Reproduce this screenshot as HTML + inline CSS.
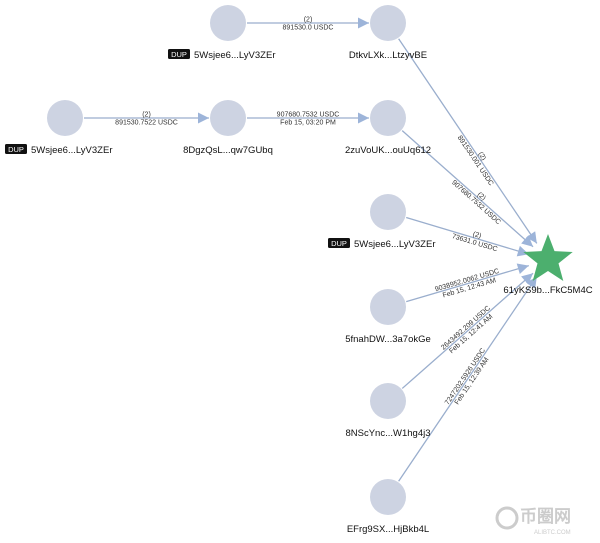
<!DOCTYPE html>
<html><head><meta charset="utf-8"><style>
body{margin:0;background:#fff;width:600px;height:538px;overflow:hidden}
svg{font-family:"Liberation Sans",sans-serif}
</style></head><body>
<svg id="s" width="600" height="538" viewBox="0 0 600 538" xmlns="http://www.w3.org/2000/svg">
<defs><marker id="ar" viewBox="0 0 10 10" refX="10" refY="5" markerWidth="16" markerHeight="11" markerUnits="userSpaceOnUse" orient="auto"><path d="M0,0L10,5L0,10z" fill="#9db4d9"/></marker></defs>
<g id="edges"></g><g id="nodes"></g>
</svg>
<script>
const S="http://www.w3.org/2000/svg";
const N={A:[228,23],B:[388,23],C:[65,118],D:[228,118],E:[388,118],F:[388,212],G:[388,307],H:[388,401],I:[388,497]};
const star=[548,260];
const eg=document.getElementById('edges'),ng=document.getElementById('nodes');
function el(t,a,p,txt){const e=document.createElementNS(S,t);for(const k in a)e.setAttribute(k,a[k]);if(txt!=null)e.textContent=txt;p.appendChild(e);return e;}
function edge(a,b,l1,l2,f,r2){
 const dx=b[0]-a[0],dy=b[1]-a[1],L=Math.hypot(dx,dy),ux=dx/L,uy=dy/L;
 const s=[a[0]+ux*19,a[1]+uy*19],e=[b[0]-ux*r2,b[1]-uy*r2];
 el('line',{x1:s[0],y1:s[1],x2:e[0],y2:e[1],stroke:'#9aaecd','stroke-width':1.3,'marker-end':'url(#ar)'},eg);
 const mx=a[0]+dx*f,my=a[1]+dy*f;let ang=Math.atan2(dy,dx)*180/Math.PI;
 if(ang>90)ang-=180;if(ang<-90)ang+=180;
 const g=el('g',{transform:`translate(${mx},${my}) rotate(${ang})`},eg);
 el('text',{x:0,y:-1.5,'font-size':7,'text-anchor':'middle',fill:'#333'},g,l1);
 el('text',{x:0,y:6.5,'font-size':7,'text-anchor':'middle',fill:'#333'},g,l2);
}
edge(N.A,N.B,'(2)','891530.0 USDC',0.5,19);
edge(N.C,N.D,'(2)','891530.7522 USDC',0.5,19);
edge(N.D,N.E,'907680.7532 USDC','Feb 15, 03:20 PM',0.5,19);
edge(N.B,star,'(2)','891530.001 USDC',0.57,20);
edge(N.E,star,'(2)','907680.7532 USDC',0.57,20);
edge(N.F,star,'(2)','73631.0 USDC',0.55,20);
edge(N.G,star,'9038952.0062 USDC','Feb 15, 12:43 AM',0.5,20);
edge(N.H,star,'2643492.209 USDC','Feb 15, 12:41 AM',0.5,20);
edge(N.I,star,'7247202.5926 USDC','Feb 15, 12:39 AM',0.5,20);
const labels={A:['5Wsjee6...LyV3ZEr',1],B:['DtkvLXk...LtzyvBE'],C:['5Wsjee6...LyV3ZEr',1],D:['8DgzQsL...qw7GUbq'],E:['2zuVoUK...ouUq612'],F:['5Wsjee6...LyV3ZEr',1],G:['5fnahDW...3a7okGe'],H:['8NScYnc...W1hg4j3'],I:['EFrg9SX...HjBkb4L']};
for(const k in N){const [x,y]=N[k];el('circle',{cx:x,cy:y,r:18,fill:'#cdd3e2'},ng);
 const [t,d]=labels[k];
 if(d){el('rect',{x:x-60,y:y+26,width:22,height:10,rx:1.5,fill:'#111'},ng);el('text',{x:x-49,y:y+34,'font-size':7.5,'text-anchor':'middle',fill:'#fff'},ng,'DUP');el('text',{x:x-34,y:y+35,'font-size':9.5,fill:'#111'},ng,t);}
 else el('text',{x:x,y:y+35,'font-size':9.5,'text-anchor':'middle',fill:'#111'},ng,t);}
let p=[];for(let i=0;i<10;i++){const r=i%2?11:26,a=-Math.PI/2+i*Math.PI/5;p.push((star[0]+r*Math.cos(a)).toFixed(1)+','+(star[1]+r*Math.sin(a)).toFixed(1));}
el('polygon',{points:p.join(' '),fill:'#4caf6e'},ng);
el('text',{x:548,y:293,'font-size':9.5,'text-anchor':'middle',fill:'#111'},ng,'61yKS9b...FkC5M4C');
el('text',{x:520,y:522,'font-size':17,fill:'#ccc','font-weight':'bold'},ng,'币圈网');
el('text',{x:534,y:534,'font-size':6,fill:'#ccc'},ng,'ALIBTC.COM');
el('circle',{cx:507,cy:518,r:10,fill:'none',stroke:'#ccc','stroke-width':3},ng);
</script>
</body></html>
